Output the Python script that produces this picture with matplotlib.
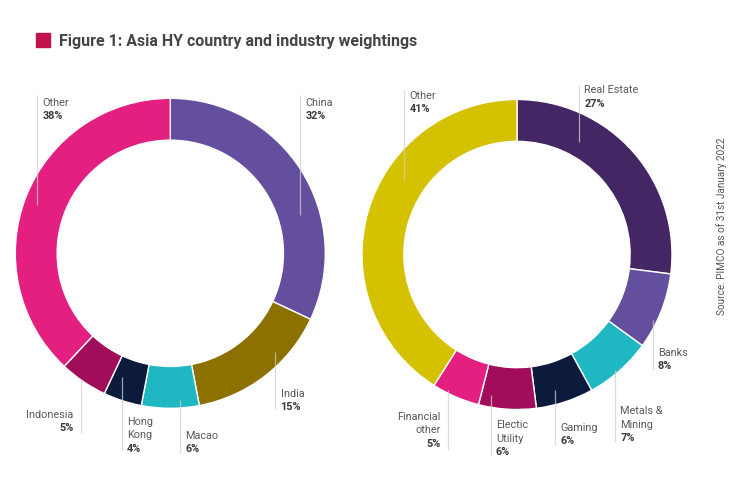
import matplotlib
matplotlib.use("Agg")
import matplotlib.pyplot as plt
from matplotlib.patches import Rectangle

# ---------------- data ----------------
country_labels = ["China", "India", "Macao", "Hong\nKong", "Indonesia", "Other"]
country_values = [32, 15, 6, 4, 5, 38]
industry_labels = ["Real Estate", "Banks", "Metals &\nMining", "Gaming",
                   "Electic\nUtility", "Financial\nother", "Other"]
industry_values = [27, 8, 7, 6, 6, 5, 41]
title = "Figure 1: Asia HY country and industry weightings"
source = "Source: PIMCO as of 31st January 2022"

# ---------------- styles ----------------
country_colors = ["#644f9f", "#8c7000", "#1fb7c2", "#0c1a3c", "#a10d5a", "#e31f80"]
industry_colors = ["#432663", "#644f9f", "#1fb7c2", "#0c1a3c", "#a10d5a", "#e31f80", "#d4c100"]

W, H = 750, 479
FONT = "Roboto"

# label layout (pixel coords, y measured from top): line x, line top, line bottom,
# first baseline, alignment
country_layout = [
    (300, 95, 215, 105.5, "left"),
    (275, 352, 409, 397, "left"),
    (179.5, 400, 453, 439, "left"),
    (121.5, 377, 450, 425, "left"),
    (80.5, 380, 432.5, 417.5, "right"),
    (37, 95, 205, 105.5, "left"),
]
industry_layout = [
    (579, 85, 142, 93.3, "left"),
    (652.5, 320, 370, 355.7, "left"),
    (615, 370, 442, 414.3, "left"),
    (555, 390, 445, 431, "left"),
    (490.5, 395, 455, 428.3, "left"),
    (447.5, 390, 450, 420, "right"),
    (404, 90, 180, 99, "left"),
]

fig = plt.figure(figsize=(W / 100, H / 100), dpi=100)
ax = fig.add_axes([0, 0, 1, 1])


def Y(y):
    return H - y


def donut(values, colors, center, radius):
    ax.pie(values, colors=colors, startangle=90, counterclock=False,
           center=center, radius=radius,
           wedgeprops=dict(width=radius * 0.27, edgecolor="white", linewidth=1.0),
           frame=True)


def labels(names, values, layout):
    for name, val, (lx, ltop, lbot, base, ha) in zip(names, values, layout):
        ax.plot([lx, lx], [Y(ltop), Y(lbot)], color="#cfcfcf", lw=0.9,
                alpha=0.75, zorder=5, solid_capstyle="butt")
        lines = name.split("\n")
        tx = lx + 5.5 if ha == "left" else lx - 7
        for i, ln in enumerate(lines):
            ax.text(tx, Y(base + 13.4 * i), ln, ha=ha, va="baseline",
                    fontsize=7.8, color="#5a5a5a", family=FONT, zorder=6)
        ax.text(tx, Y(base + 13.4 * len(lines)), f"{val}%", ha=ha, va="baseline",
                fontsize=7.8, color="#3a3a3a", fontweight="bold", family=FONT, zorder=6)


donut(country_values, country_colors, (170.3, Y(253.3)), 155)
donut(industry_values, industry_colors, (517, Y(254.5)), 155)
labels(country_labels, country_values, country_layout)
labels(industry_labels, industry_values, industry_layout)

# title
ax.add_patch(Rectangle((36, Y(46.7)), 14, 13.4, color="#c1124a", zorder=6))
ax.text(59, Y(46), title, ha="left", va="baseline", fontsize=11.5,
        fontweight="bold", color="#454545", family=FONT)

# source
ax.text(722, Y(226), source, rotation=90, ha="center", va="center",
        fontsize=7.2, color="#555555", family=FONT)

ax.set_xlim(0, W)
ax.set_ylim(0, H)
ax.set_aspect("auto")
ax.axis("off")
fig.savefig("out.png", dpi=100, facecolor="white")
